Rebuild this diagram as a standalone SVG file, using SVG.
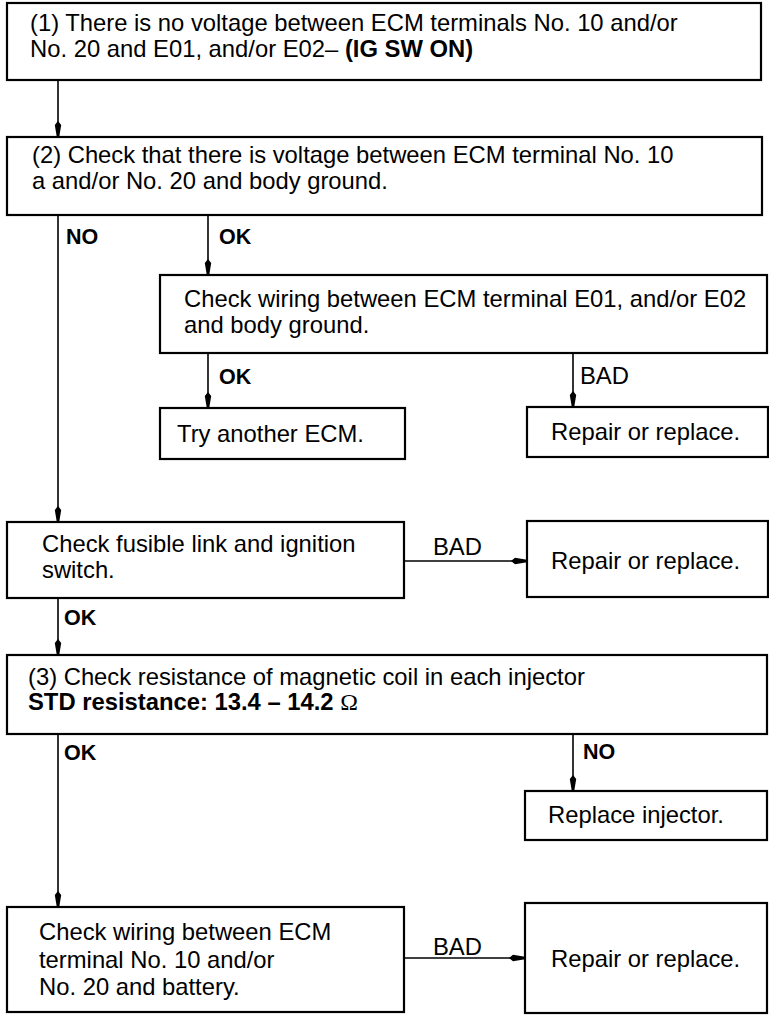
<svg xmlns="http://www.w3.org/2000/svg" width="769" height="1020" viewBox="0 0 769 1020">
<style>
.box{fill:#fff;stroke:#000;stroke-width:2.2}
.t{font-family:"Liberation Sans",Arial,sans-serif;font-size:23.8px;fill:#000}
.b{font-weight:bold}
.lbl{font-family:"Liberation Sans",Arial,sans-serif;font-size:21.5px;font-weight:bold;fill:#000}
.om{font-family:"Liberation Serif","Times New Roman",serif;font-weight:normal}
.c{fill:none;stroke:#000;stroke-width:1.6}
</style>
<defs>
<marker id="ah" viewBox="0 -4 16 8" refX="16" refY="0" markerWidth="16" markerHeight="8" markerUnits="userSpaceOnUse" orient="auto">
<path d="M0,0 L4,-3.2 L16,-1.2 L16,1.2 L4,3.2 Z" fill="#000"/>
</marker>
</defs>
<rect width="769" height="1020" fill="#fff"/>
<g id="connectors">
<line class="c" x1="58" y1="80" x2="58" y2="137" marker-end="url(#ah)"/>
<line class="c" x1="58" y1="215" x2="58" y2="522" marker-end="url(#ah)"/>
<line class="c" x1="208" y1="215" x2="208" y2="275" marker-end="url(#ah)"/>
<line class="c" x1="208" y1="353" x2="208" y2="408" marker-end="url(#ah)"/>
<line class="c" x1="573" y1="353" x2="573" y2="407" marker-end="url(#ah)"/>
<line class="c" x1="404" y1="561" x2="527" y2="561" marker-end="url(#ah)"/>
<line class="c" x1="58" y1="598" x2="58" y2="655" marker-end="url(#ah)"/>
<line class="c" x1="58" y1="734" x2="58" y2="907" marker-end="url(#ah)"/>
<line class="c" x1="573" y1="734" x2="573" y2="791" marker-end="url(#ah)"/>
<line class="c" x1="404" y1="958" x2="525" y2="958" marker-end="url(#ah)"/>
<text class="lbl" x="66" y="244">NO</text>
<text class="lbl" x="219" y="244">OK</text>
<text class="lbl" x="219" y="384">OK</text>
<text class="t" x="580" y="384">BAD</text>
<text class="t" x="433" y="555">BAD</text>
<text class="lbl" x="64" y="625">OK</text>
<text class="lbl" x="64" y="760">OK</text>
<text class="lbl" x="583" y="759">NO</text>
<text class="t" x="433" y="955">BAD</text>
</g>
<g id="n1">
<rect class="box" x="7" y="3" width="754" height="77"/>
<text class="t" x="30" y="31">(1) There is no voltage between ECM terminals No. 10 and/or</text>
<text class="t" x="30" y="57">No. 20 and E01, and/or E02– <tspan class="b">(IG SW ON)</tspan></text>
</g>
<g id="n2">
<rect class="box" x="7" y="137" width="755" height="78"/>
<text class="t" x="32" y="163">(2) Check that there is voltage between ECM terminal No. 10</text>
<text class="t" x="32" y="189">a and/or No. 20 and body ground.</text>
</g>
<g id="n3">
<rect class="box" x="160" y="275" width="607" height="78"/>
<text class="t" x="184" y="307">Check wiring between ECM terminal E01, and/or E02</text>
<text class="t" x="184" y="333">and body ground.</text>
</g>
<g id="n4">
<rect class="box" x="160" y="408" width="245" height="51"/>
<text class="t" x="177" y="442">Try another ECM.</text>
</g>
<g id="n5">
<rect class="box" x="527" y="407" width="241" height="50"/>
<text class="t" x="551" y="440">Repair or replace.</text>
</g>
<g id="n6">
<rect class="box" x="7" y="522" width="397" height="76"/>
<text class="t" x="42" y="552">Check fusible link and ignition</text>
<text class="t" x="42" y="578">switch.</text>
</g>
<g id="n7">
<rect class="box" x="527" y="521" width="241" height="76"/>
<text class="t" x="551" y="569">Repair or replace.</text>
</g>
<g id="n8">
<rect class="box" x="7" y="655" width="760" height="79"/>
<text class="t" x="28" y="685">(3) Check resistance of magnetic coil in each injector</text>
<text class="t b" x="28" y="710">STD resistance: 13.4 – 14.2 <tspan class="om">Ω</tspan></text>
</g>
<g id="n9">
<rect class="box" x="525" y="791" width="242" height="49"/>
<text class="t" x="548" y="823">Replace injector.</text>
</g>
<g id="n10">
<rect class="box" x="7" y="907" width="397" height="105"/>
<text class="t" x="39" y="940">Check wiring between ECM</text>
<text class="t" x="39" y="968">terminal No. 10 and/or</text>
<text class="t" x="39" y="995">No. 20 and battery.</text>
</g>
<g id="n11">
<rect class="box" x="525" y="903" width="242" height="110"/>
<text class="t" x="551" y="967">Repair or replace.</text>
</g>
</svg>
